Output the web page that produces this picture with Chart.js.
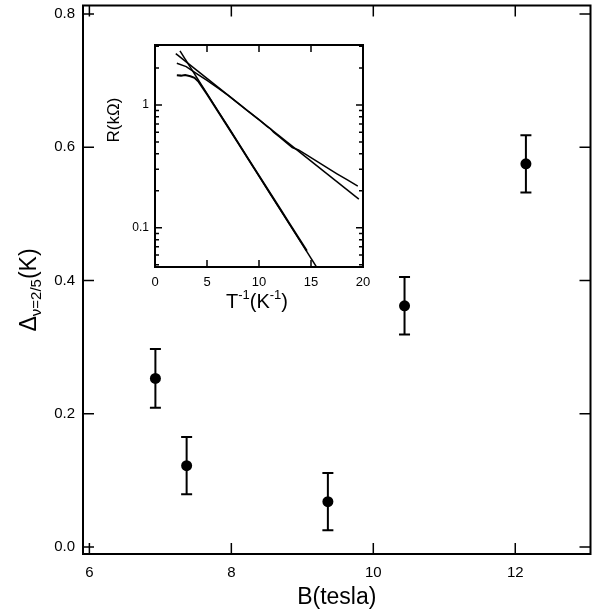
<!DOCTYPE html>
<html>
<head>
<meta charset="utf-8">
<script src="https://cdn.jsdelivr.net/npm/chart.js@4.4.1/dist/chart.umd.min.js"></script>
<style>
    body { margin: 0; background: #fff; }
    #quadro { position: relative; width: 596px; height: 616px; }
    canvas { position: absolute; left: 0; top: 0; }
    #chartInset { pointer-events: none; }
</style>
</head>
<body>
<div id="quadro">
    <canvas id="chartPrincipal" width="596" height="616"></canvas>
    <canvas id="chartInset" width="596" height="616"></canvas>
</div>
<script>
// painel principal: gap em nu=2/5 vs campo
var campoB = [6.93, 7.37, 9.36, 10.44, 12.15];
var gapDelta = [0.253, 0.122, 0.068, 0.362, 0.575];
var erroGap = [0.044, 0.043, 0.043, 0.043, 0.043];
var ticksB = [6, 8, 10, 12];
var ticksDelta = [0.0, 0.2, 0.4, 0.6, 0.8];

// inset: R(kOhm) vs 1/T
var ticksInvT = [0, 5, 10, 15, 20];
var ticksR = [0.1, 1];
var minorR = [0.05, 0.06, 0.07, 0.08, 0.09, 0.2, 0.3, 0.4, 0.5, 0.6, 0.7, 0.8, 0.9, 2, 3];

// curva ingreme (dados)
var ingremeT = [2.1, 2.5, 2.9, 3.4, 3.8, 4.2, 5, 6, 7, 8, 9, 10, 11, 12, 13, 14, 14.6];
var ingremeR = [1.74, 1.73, 1.75, 1.71, 1.66, 1.54, 1.22, 0.90, 0.665, 0.49, 0.36, 0.265, 0.195, 0.144, 0.106, 0.078, 0.065];
// reta ajustada ingreme
var ajusteIngremeT = [2.4, 15.6];
var ajusteIngremeR = [2.75, 0.047];

// curva suave (dados)
var suaveT = [2.1, 3, 4, 5, 6, 7, 8, 9, 10, 10.8, 11.1, 11.4, 12, 12.6, 13.2, 13.8, 14.5, 15.5, 16.5, 17.5, 18.5, 19.5];
var suaveR = [2.18, 2.05, 1.80, 1.58, 1.38, 1.20, 1.03, 0.88, 0.76, 0.665, 0.64, 0.60, 0.545, 0.495, 0.45, 0.43, 0.395, 0.35, 0.31, 0.275, 0.245, 0.218];
// reta ajustada suave
var ajusteSuaveT = [2.0, 19.6];
var ajusteSuaveR = [2.61, 0.171];

var fonte = "'Liberation Sans', Arial, sans-serif";
Chart.defaults.font.family = fonte;
Chart.defaults.color = '#000';

function pares(xs, ys) {
    var lista = [];
    for (var i = 0; i < xs.length; i++) {
        lista.push({ x: xs[i], y: ys[i] });
    }
    return lista;
}

function zerarPadding(s) {
    s.paddingTop = 0;
    s.paddingBottom = 0;
    s.paddingLeft = 0;
    s.paddingRight = 0;
}

// moldura fechada + marcas para dentro nos quatro lados
var pluginMoldura = {
    id: 'moldura',
    afterDraw: function (chart, args, opts) {
        var ctx = chart.ctx;
        var a = chart.chartArea;
        var sx = chart.scales.x;
        var sy = chart.scales.y;
        ctx.save();
        ctx.strokeStyle = '#000';
        ctx.lineWidth = opts.larguraMarca;
        ctx.beginPath();
        opts.marcasX.forEach(function (v) {
            var px = sx.getPixelForValue(v);
            ctx.moveTo(px, a.bottom);
            ctx.lineTo(px, a.bottom - opts.tamanho);
            ctx.moveTo(px, a.top);
            ctx.lineTo(px, a.top + opts.tamanho);
        });
        opts.marcasY.forEach(function (v) {
            var py = sy.getPixelForValue(v);
            ctx.moveTo(a.left, py);
            ctx.lineTo(a.left + opts.tamanho, py);
            ctx.moveTo(a.right, py);
            ctx.lineTo(a.right - opts.tamanho, py);
        });
        (opts.menoresY || []).forEach(function (v) {
            var py = sy.getPixelForValue(v);
            if (py < a.top || py > a.bottom) return;
            ctx.moveTo(a.left, py);
            ctx.lineTo(a.left + opts.tamanhoMenor, py);
            ctx.moveTo(a.right, py);
            ctx.lineTo(a.right - opts.tamanhoMenor, py);
        });
        ctx.stroke();
        ctx.lineWidth = opts.larguraMoldura;
        ctx.strokeRect(a.left, a.top, a.right - a.left, a.bottom - a.top);
        ctx.restore();
    }
};

// barras de erro
var pluginBarrasErro = {
    id: 'barrasErro',
    beforeDatasetsDraw: function (chart, args, opts) {
        var ctx = chart.ctx;
        var sx = chart.scales.x;
        var sy = chart.scales.y;
        ctx.save();
        ctx.strokeStyle = '#000';
        ctx.lineWidth = 2;
        ctx.beginPath();
        for (var i = 0; i < campoB.length; i++) {
            var px = sx.getPixelForValue(campoB[i]);
            var topo = sy.getPixelForValue(gapDelta[i] + erroGap[i]);
            var base = sy.getPixelForValue(gapDelta[i] - erroGap[i]);
            ctx.moveTo(px, topo);
            ctx.lineTo(px, base);
            ctx.moveTo(px - 5.5, topo);
            ctx.lineTo(px + 5.5, topo);
            ctx.moveTo(px - 5.5, base);
            ctx.lineTo(px + 5.5, base);
        }
        ctx.stroke();
        ctx.restore();
    }
};

// textos com sub/sobrescrito
function desenharTextoRico(ctx, x, y, rot, partes) {
    ctx.save();
    ctx.translate(x, y);
    ctx.rotate(rot);
    ctx.fillStyle = '#000';
    ctx.textBaseline = 'alphabetic';
    ctx.textAlign = 'left';
    var total = 0;
    partes.forEach(function (p) {
        ctx.font = p.tam + 'px ' + fonte;
        p.larg = ctx.measureText(p.t).width;
        total += p.larg;
    });
    var cx = -total / 2;
    partes.forEach(function (p) {
        ctx.font = p.tam + 'px ' + fonte;
        ctx.fillText(p.t, cx, p.dy || 0);
        cx += p.larg;
    });
    ctx.restore();
}

var pluginTextos = {
    id: 'textos',
    afterDraw: function (chart, args, opts) {
        opts.itens.forEach(function (it) {
            desenharTextoRico(chart.ctx, it.x, it.y, it.rot, it.partes);
        });
    }
};

// grafico principal
new Chart(document.getElementById('chartPrincipal'), {
    type: 'scatter',
    data: {
        datasets: [{
            data: pares(campoB, gapDelta),
            backgroundColor: '#000',
            borderWidth: 0,
            pointRadius: 5.5
        }]
    },
    options: {
        responsive: false,
        animation: false,
        layout: { padding: { top: 4, right: 4, left: 0, bottom: 0 } },
        plugins: {
            legend: { display: false },
            tooltip: { enabled: false },
            moldura: { marcasX: ticksB, marcasY: ticksDelta, tamanho: 11, larguraMarca: 1.5, larguraMoldura: 2 },
            textos: {
                itens: [{
                    x: 36, y: 290, rot: -Math.PI / 2,
                    partes: [
                        { t: '\u0394', tam: 23 },
                        { t: '\u03bd=2/5', tam: 15, dy: 5 },
                        { t: '(K)', tam: 23 }
                    ]
                }]
            }
        },
        scales: {
            x: {
                type: 'linear',
                min: 5.91,
                max: 13.06,
                afterBuildTicks: function (s) { s.ticks = ticksB.map(function (v) { return { value: v }; }); },
                afterFit: function (s) { s.height = 62; zerarPadding(s); },
                grid: { display: false, drawTicks: false },
                border: { display: false },
                ticks: { autoSkip: false, maxRotation: 0, padding: 10, font: { size: 15 }, callback: function (v) { return String(v); } },
                title: { display: true, text: 'B(tesla)', font: { size: 23 }, padding: { top: 0, bottom: 5 } }
            },
            y: {
                type: 'linear',
                min: -0.0105,
                max: 0.8126,
                afterBuildTicks: function (s) { s.ticks = ticksDelta.map(function (v) { return { value: v }; }); },
                afterFit: function (s) { s.width = 83; zerarPadding(s); },
                grid: { display: false, drawTicks: false },
                border: { display: false },
                ticks: { autoSkip: false, padding: 8, font: { size: 15 }, callback: function (v) { return v.toFixed(1); } }
            }
        }
    },
    plugins: [pluginBarrasErro, pluginMoldura, pluginTextos]
});

// inset
new Chart(document.getElementById('chartInset'), {
    type: 'scatter',
    data: {
        datasets: [
            { data: pares(ajusteIngremeT, ajusteIngremeR), showLine: true, borderColor: '#000', borderWidth: 1.5, pointRadius: 0 },
            { data: pares(ingremeT, ingremeR), showLine: true, borderColor: '#000', borderWidth: 2, pointRadius: 0 },
            { data: pares(ajusteSuaveT, ajusteSuaveR), showLine: true, borderColor: '#000', borderWidth: 1.5, pointRadius: 0 },
            { data: pares(suaveT, suaveR), showLine: true, borderColor: '#000', borderWidth: 1.5, pointRadius: 0 }
        ]
    },
    options: {
        responsive: false,
        animation: false,
        layout: { padding: { top: 45, right: 233, left: 100, bottom: 299 } },
        plugins: {
            legend: { display: false },
            tooltip: { enabled: false },
            moldura: { marcasX: ticksInvT, marcasY: ticksR, menoresY: minorR, tamanho: 7, tamanhoMenor: 4, larguraMarca: 1.5, larguraMoldura: 2 },
            textos: {
                itens: [
                    {
                        x: 119, y: 120, rot: -Math.PI / 2,
                        partes: [{ t: 'R(k\u03a9)', tam: 17 }]
                    },
                    {
                        x: 257, y: 308, rot: 0,
                        partes: [
                            { t: 'T', tam: 20 },
                            { t: '-1', tam: 13, dy: -9 },
                            { t: '(K', tam: 20 },
                            { t: '-1', tam: 13, dy: -9 },
                            { t: ')', tam: 20 }
                        ]
                    }
                ]
            }
        },
        scales: {
            x: {
                type: 'linear',
                min: 0,
                max: 20,
                afterBuildTicks: function (s) { s.ticks = ticksInvT.map(function (v) { return { value: v }; }); },
                afterFit: function (s) { s.height = 50; zerarPadding(s); },
                grid: { display: false, drawTicks: false },
                border: { display: false },
                ticks: { autoSkip: false, maxRotation: 0, padding: 8, font: { size: 13 }, callback: function (v) { return String(v); } }
            },
            y: {
                type: 'logarithmic',
                min: 0.048,
                max: 3.07,
                afterBuildTicks: function (s) { s.ticks = ticksR.map(function (v) { return { value: v }; }); },
                afterFit: function (s) { s.width = 55; zerarPadding(s); },
                grid: { display: false, drawTicks: false },
                border: { display: false },
                ticks: { autoSkip: false, padding: 6, font: { size: 12 }, callback: function (v) { return String(v); } }
            }
        }
    },
    plugins: [pluginMoldura, pluginTextos]
});
</script>
</body>
</html>
